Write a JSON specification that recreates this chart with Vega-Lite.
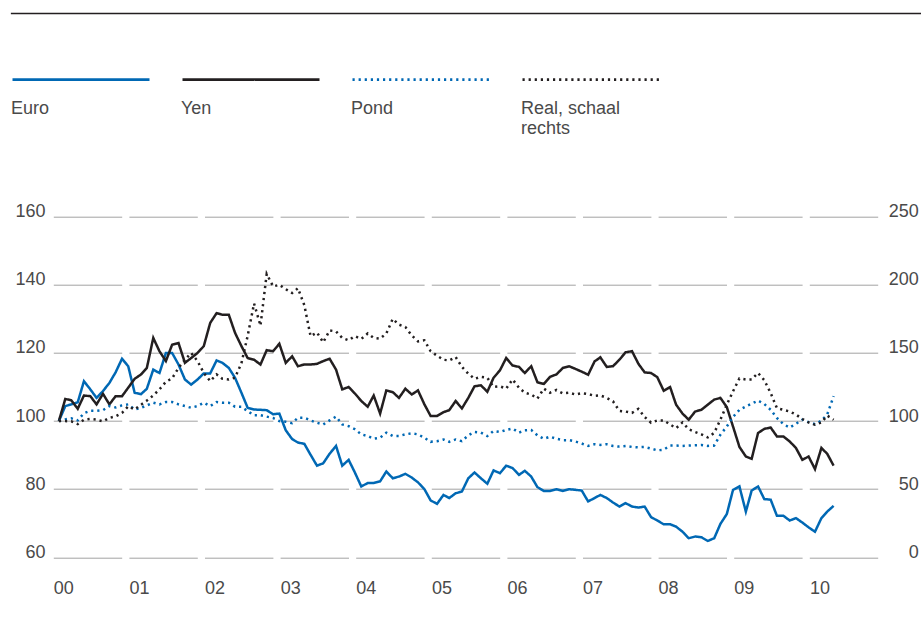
{
  "$schema": "https://vega.github.io/schema/vega-lite/v6.json",
  "width": 824.4,
  "height": 340.6,
  "autosize": {"type": "none"},
  "padding": {"left": 53.3, "top": 216.7, "right": 43.3, "bottom": 60.7},
  "background": "white",
  "config": {
    "font": "Liberation Sans",
    "view": {"stroke": null},
    "axis": {"labelFont": "Liberation Sans", "labelFontSize": 18, "labelColor": "#4a4a4a", "ticks": false, "tickSize": 0, "domain": false, "title": null},
    "legend": {"labelFont": "Liberation Sans"}
  },
  "datasets": {
    "fx": [
      {"d": "2000-01-28", "Euro": 100, "Yen": 100, "Pond": 100, "Real": 100},
      {"d": "2000-02-28", "Euro": 104.4, "Yen": 106.5, "Pond": 100.5, "Real": 100},
      {"d": "2000-03-28", "Euro": 104.9, "Yen": 106.1, "Pond": 100.8, "Real": 99.8},
      {"d": "2000-04-28", "Euro": 105.5, "Yen": 103.6, "Pond": 100.2, "Real": 97.8},
      {"d": "2000-05-28", "Euro": 111.7, "Yen": 107.5, "Pond": 102.3, "Real": 101},
      {"d": "2000-06-28", "Euro": 109.3, "Yen": 107.3, "Pond": 103, "Real": 101.5},
      {"d": "2000-07-28", "Euro": 106.8, "Yen": 104.9, "Pond": 103, "Real": 101},
      {"d": "2000-08-28", "Euro": 108.8, "Yen": 108, "Pond": 103.2, "Real": 99.8},
      {"d": "2000-09-28", "Euro": 111.2, "Yen": 104.9, "Pond": 104.4, "Real": 102.3},
      {"d": "2000-10-28", "Euro": 114.3, "Yen": 107.3, "Pond": 104, "Real": 103.5},
      {"d": "2000-11-28", "Euro": 118.3, "Yen": 107.3, "Pond": 104.6, "Real": 106},
      {"d": "2000-12-28", "Euro": 116.1, "Yen": 109.8, "Pond": 104.9, "Real": 110.8},
      {"d": "2001-01-28", "Euro": 108.3, "Yen": 112.4, "Pond": 103.4, "Real": 108.5},
      {"d": "2001-02-28", "Euro": 107.9, "Yen": 113.7, "Pond": 103.9, "Real": 112},
      {"d": "2001-03-28", "Euro": 109.5, "Yen": 115.6, "Pond": 104.6, "Real": 115},
      {"d": "2001-04-28", "Euro": 115.1, "Yen": 124.4, "Pond": 105.4, "Real": 118.8},
      {"d": "2001-05-28", "Euro": 114.1, "Yen": 120.5, "Pond": 104.9, "Real": 123.3},
      {"d": "2001-06-28", "Euro": 120, "Yen": 117.6, "Pond": 105.6, "Real": 128.8},
      {"d": "2001-07-28", "Euro": 120, "Yen": 122.4, "Pond": 105.6, "Real": 131.3},
      {"d": "2001-08-28", "Euro": 116.6, "Yen": 122.9, "Pond": 104.9, "Real": 139},
      {"d": "2001-09-28", "Euro": 112.2, "Yen": 117.1, "Pond": 104.4, "Real": 145},
      {"d": "2001-10-28", "Euro": 110.7, "Yen": 118.5, "Pond": 103.9, "Real": 150},
      {"d": "2001-11-28", "Euro": 112.2, "Yen": 120, "Pond": 104.4, "Real": 144},
      {"d": "2001-12-28", "Euro": 114, "Yen": 122, "Pond": 105.4, "Real": 135.3},
      {"d": "2002-01-28", "Euro": 114, "Yen": 128.8, "Pond": 104.4, "Real": 129.3},
      {"d": "2002-02-28", "Euro": 117.8, "Yen": 131.7, "Pond": 105.6, "Real": 134.3},
      {"d": "2002-03-28", "Euro": 117.1, "Yen": 131.2, "Pond": 105.4, "Real": 131},
      {"d": "2002-04-28", "Euro": 115.6, "Yen": 131.2, "Pond": 105.4, "Real": 130.5},
      {"d": "2002-05-28", "Euro": 112.7, "Yen": 125.9, "Pond": 104.2, "Real": 131.8},
      {"d": "2002-06-28", "Euro": 108.3, "Yen": 122, "Pond": 104.2, "Real": 142.5},
      {"d": "2002-07-28", "Euro": 103.9, "Yen": 118.5, "Pond": 102.9, "Real": 162.5},
      {"d": "2002-08-28", "Euro": 103.4, "Yen": 118, "Pond": 101.7, "Real": 186.3},
      {"d": "2002-09-28", "Euro": 103.3, "Yen": 116.6, "Pond": 101.7, "Real": 170},
      {"d": "2002-10-28", "Euro": 103.2, "Yen": 120.8, "Pond": 101.3, "Real": 208},
      {"d": "2002-11-28", "Euro": 102, "Yen": 120.5, "Pond": 100.9, "Real": 198.8},
      {"d": "2002-12-28", "Euro": 102.2, "Yen": 122.7, "Pond": 100, "Real": 200},
      {"d": "2003-01-28", "Euro": 97.3, "Yen": 117.1, "Pond": 99.8, "Real": 196.8},
      {"d": "2003-02-28", "Euro": 94.7, "Yen": 119, "Pond": 99.4, "Real": 194},
      {"d": "2003-03-28", "Euro": 93.7, "Yen": 116.1, "Pond": 101, "Real": 197.5},
      {"d": "2003-04-28", "Euro": 93.3, "Yen": 116.6, "Pond": 101, "Real": 185},
      {"d": "2003-05-28", "Euro": 90.1, "Yen": 116.6, "Pond": 100.2, "Real": 162.3},
      {"d": "2003-06-28", "Euro": 86.9, "Yen": 116.8, "Pond": 99.5, "Real": 165},
      {"d": "2003-07-28", "Euro": 87.6, "Yen": 117.6, "Pond": 99, "Real": 157.8},
      {"d": "2003-08-28", "Euro": 90.4, "Yen": 118.3, "Pond": 100.2, "Real": 166.5},
      {"d": "2003-09-28", "Euro": 92.7, "Yen": 115.1, "Pond": 101.3, "Real": 165.8},
      {"d": "2003-10-28", "Euro": 86.9, "Yen": 109.3, "Pond": 99, "Real": 161},
      {"d": "2003-11-28", "Euro": 88.6, "Yen": 110, "Pond": 98.5, "Real": 159.3},
      {"d": "2003-12-28", "Euro": 84.9, "Yen": 108.1, "Pond": 97.6, "Real": 162.3},
      {"d": "2004-01-28", "Euro": 80.8, "Yen": 105.9, "Pond": 96.1, "Real": 160.3},
      {"d": "2004-02-28", "Euro": 81.8, "Yen": 104.2, "Pond": 95.6, "Real": 164.3},
      {"d": "2004-03-28", "Euro": 81.8, "Yen": 107.5, "Pond": 94.8, "Real": 161},
      {"d": "2004-04-28", "Euro": 82.3, "Yen": 102.2, "Pond": 95.1, "Real": 160.5},
      {"d": "2004-05-28", "Euro": 85.2, "Yen": 109, "Pond": 96.6, "Real": 164.3},
      {"d": "2004-06-28", "Euro": 83.2, "Yen": 108.5, "Pond": 95.6, "Real": 175},
      {"d": "2004-07-28", "Euro": 83.7, "Yen": 106.8, "Pond": 95.6, "Real": 170.8},
      {"d": "2004-08-28", "Euro": 84.5, "Yen": 109.5, "Pond": 96.1, "Real": 169},
      {"d": "2004-09-28", "Euro": 83.4, "Yen": 107.8, "Pond": 96.4, "Real": 162.8},
      {"d": "2004-10-28", "Euro": 82, "Yen": 109, "Pond": 96.1, "Real": 158.5},
      {"d": "2004-11-28", "Euro": 80, "Yen": 104.9, "Pond": 95.1, "Real": 159.3},
      {"d": "2004-12-28", "Euro": 76.7, "Yen": 101.5, "Pond": 93.9, "Real": 151.3},
      {"d": "2005-01-28", "Euro": 75.7, "Yen": 101.5, "Pond": 94.1, "Real": 148},
      {"d": "2005-02-28", "Euro": 78.3, "Yen": 102.6, "Pond": 94.6, "Real": 145},
      {"d": "2005-03-28", "Euro": 77.4, "Yen": 103.2, "Pond": 93.9, "Real": 144.5},
      {"d": "2005-04-28", "Euro": 78.8, "Yen": 105.9, "Pond": 94.6, "Real": 147},
      {"d": "2005-05-28", "Euro": 79.3, "Yen": 103.7, "Pond": 94.1, "Real": 139.8},
      {"d": "2005-06-28", "Euro": 83.2, "Yen": 106.8, "Pond": 95.8, "Real": 134.8},
      {"d": "2005-07-28", "Euro": 84.9, "Yen": 110.2, "Pond": 96.8, "Real": 131},
      {"d": "2005-08-28", "Euro": 83.2, "Yen": 110.5, "Pond": 96.6, "Real": 132.5},
      {"d": "2005-09-28", "Euro": 81.6, "Yen": 108.6, "Pond": 95.6, "Real": 131.8},
      {"d": "2005-10-28", "Euro": 85.5, "Yen": 112.7, "Pond": 97.1, "Real": 125},
      {"d": "2005-11-28", "Euro": 84.7, "Yen": 114.9, "Pond": 96.8, "Real": 125.5},
      {"d": "2005-12-28", "Euro": 86.9, "Yen": 118.5, "Pond": 97.4, "Real": 123.8},
      {"d": "2006-01-28", "Euro": 86.2, "Yen": 116.3, "Pond": 97.8, "Real": 130.5},
      {"d": "2006-02-28", "Euro": 84.2, "Yen": 115.9, "Pond": 96.6, "Real": 124.5},
      {"d": "2006-03-28", "Euro": 85.4, "Yen": 114.1, "Pond": 97.3, "Real": 120.8},
      {"d": "2006-04-28", "Euro": 83.7, "Yen": 116.1, "Pond": 97.4, "Real": 119.5},
      {"d": "2006-05-28", "Euro": 80.6, "Yen": 111.4, "Pond": 95.8, "Real": 116.5},
      {"d": "2006-06-28", "Euro": 79.5, "Yen": 110.9, "Pond": 94.8, "Real": 123.8},
      {"d": "2006-07-28", "Euro": 79.5, "Yen": 113, "Pond": 95.4, "Real": 120.8},
      {"d": "2006-08-28", "Euro": 80, "Yen": 113.7, "Pond": 94.8, "Real": 122.8},
      {"d": "2006-09-28", "Euro": 79.5, "Yen": 115.6, "Pond": 94.4, "Real": 120.3},
      {"d": "2006-10-28", "Euro": 80, "Yen": 116.1, "Pond": 94.4, "Real": 120.8},
      {"d": "2006-11-28", "Euro": 79.8, "Yen": 115.3, "Pond": 94, "Real": 119.5},
      {"d": "2006-12-28", "Euro": 79.6, "Yen": 114.5, "Pond": 93.4, "Real": 120.5},
      {"d": "2007-01-28", "Euro": 76.4, "Yen": 113.6, "Pond": 92.7, "Real": 119.8},
      {"d": "2007-02-28", "Euro": 77.4, "Yen": 117.5, "Pond": 93.2, "Real": 118.5},
      {"d": "2007-03-28", "Euro": 78.3, "Yen": 118.7, "Pond": 93, "Real": 118.8},
      {"d": "2007-04-28", "Euro": 77.4, "Yen": 115.9, "Pond": 93.2, "Real": 117},
      {"d": "2007-05-28", "Euro": 76.1, "Yen": 116.1, "Pond": 92.7, "Real": 114.5},
      {"d": "2007-06-28", "Euro": 74.9, "Yen": 118, "Pond": 92.5, "Real": 107.5},
      {"d": "2007-07-28", "Euro": 75.9, "Yen": 120.2, "Pond": 92.7, "Real": 107},
      {"d": "2007-08-28", "Euro": 74.9, "Yen": 120.5, "Pond": 92.4, "Real": 106},
      {"d": "2007-09-28", "Euro": 74.6, "Yen": 116.8, "Pond": 92.3, "Real": 109},
      {"d": "2007-10-28", "Euro": 74.9, "Yen": 114.3, "Pond": 92.4, "Real": 103},
      {"d": "2007-11-28", "Euro": 71.8, "Yen": 114.1, "Pond": 91.9, "Real": 98.8},
      {"d": "2007-12-28", "Euro": 70.8, "Yen": 112.9, "Pond": 91.4, "Real": 100.5},
      {"d": "2008-01-28", "Euro": 69.7, "Yen": 108.9, "Pond": 91.6, "Real": 100.5},
      {"d": "2008-02-28", "Euro": 69.7, "Yen": 110, "Pond": 92.8, "Real": 97.5},
      {"d": "2008-03-28", "Euro": 69, "Yen": 104.8, "Pond": 92.8, "Real": 94.8},
      {"d": "2008-04-28", "Euro": 67.5, "Yen": 102.2, "Pond": 92.7, "Real": 99},
      {"d": "2008-05-28", "Euro": 65.6, "Yen": 100.4, "Pond": 92.8, "Real": 94},
      {"d": "2008-06-28", "Euro": 66.1, "Yen": 102.8, "Pond": 92.9, "Real": 92},
      {"d": "2008-07-28", "Euro": 65.9, "Yen": 103.3, "Pond": 93, "Real": 90.3},
      {"d": "2008-08-28", "Euro": 64.8, "Yen": 104.8, "Pond": 92.7, "Real": 88},
      {"d": "2008-09-28", "Euro": 65.6, "Yen": 106.3, "Pond": 92.8, "Real": 91.3},
      {"d": "2008-10-28", "Euro": 69.8, "Yen": 106.8, "Pond": 96, "Real": 101},
      {"d": "2008-11-28", "Euro": 72.7, "Yen": 104.1, "Pond": 98.4, "Real": 112},
      {"d": "2008-12-28", "Euro": 79.8, "Yen": 98.4, "Pond": 101.2, "Real": 121.8},
      {"d": "2009-01-28", "Euro": 80.8, "Yen": 92.4, "Pond": 103.3, "Real": 131.3},
      {"d": "2009-02-28", "Euro": 73.4, "Yen": 89.6, "Pond": 104.3, "Real": 130.5},
      {"d": "2009-03-28", "Euro": 79.6, "Yen": 88.9, "Pond": 105.1, "Real": 130.5},
      {"d": "2009-04-28", "Euro": 80.8, "Yen": 96.5, "Pond": 106, "Real": 135.3},
      {"d": "2009-05-28", "Euro": 77.1, "Yen": 97.7, "Pond": 105, "Real": 130},
      {"d": "2009-06-28", "Euro": 76.9, "Yen": 98.1, "Pond": 103.3, "Real": 120.5},
      {"d": "2009-07-28", "Euro": 72.2, "Yen": 95.5, "Pond": 100.9, "Real": 109.5},
      {"d": "2009-08-28", "Euro": 72.2, "Yen": 95.5, "Pond": 99.1, "Real": 108.3},
      {"d": "2009-09-28", "Euro": 70.8, "Yen": 94, "Pond": 98.1, "Real": 107},
      {"d": "2009-10-28", "Euro": 71.5, "Yen": 92.1, "Pond": 99.2, "Real": 104.8},
      {"d": "2009-11-28", "Euro": 70.2, "Yen": 88.6, "Pond": 100.4, "Real": 101.5},
      {"d": "2009-12-28", "Euro": 68.8, "Yen": 89.6, "Pond": 99.7, "Real": 99},
      {"d": "2010-01-28", "Euro": 67.5, "Yen": 85.9, "Pond": 99.1, "Real": 97.3},
      {"d": "2010-02-28", "Euro": 71.5, "Yen": 92.1, "Pond": 100.1, "Real": 99},
      {"d": "2010-03-28", "Euro": 73.4, "Yen": 90.4, "Pond": 101.9, "Real": 104},
      {"d": "2010-04-28", "Euro": 75.1, "Yen": 86.9, "Pond": 107.3, "Real": 101}
    ]
  },
  "layer": [
    {
      "layer": [
        {
          "data": {"values": [{"frame": "top"}]},
          "mark": {"type": "rule", "color": "#231f20", "strokeWidth": 1.3, "clip": false},
          "encoding": {
            "x": {"datum": {"year": 1999, "month": 6, "date": 10}, "type": "temporal", "scale": {"domain": [{"year": 2000, "month": 1, "date": 1}, {"year": 2010, "month": 11, "date": 27}]}},
            "x2": {"datum": {"year": 2011, "month": 6, "date": 26}},
            "y": {"datum": 219.66, "type": "quantitative", "scale": {"domain": [60, 160]}}
          }
        },
        {
          "data": {"name": "fx"},
          "transform": [{"fold": ["Euro", "Yen", "Pond"], "as": ["serie", "value"]}],
          "mark": {"type": "line", "strokeWidth": 2.5, "strokeCap": "butt", "strokeJoin": "miter"},
          "encoding": {
            "x": {
              "field": "d", "type": "temporal",
              "scale": {"domain": [{"year": 2000, "month": 1, "date": 1}, {"year": 2010, "month": 11, "date": 27}]},
              "axis": {"format": "%y", "tickCount": {"interval": "year", "step": 1}, "labelAlign": "left", "labelBaseline": "top", "labelPadding": 22, "labelFlush": false, "labelOverlap": false, "grid": false}
            },
            "y": {
              "field": "value", "type": "quantitative",
              "scale": {"domain": [60, 160]},
              "axis": {"orient": "left", "values": [60, 80, 100, 120, 140, 160], "grid": true, "gridColor": "#a3a3a3", "gridWidth": 1, "gridDash": [68.4, 7.2], "labelPadding": 8.3, "labelBaseline": "alphabetic"}
            },
            "color": {
              "field": "serie", "type": "nominal",
              "scale": {"domain": ["Euro", "Yen", "Pond", "Real"], "range": ["#0068b4", "#231f20", "#0068b4", "#231f20"]},
              "legend": {
                "orient": "none", "legendX": -42.3, "legendY": -207, "direction": "horizontal", "columns": 4,
                "symbolType": "stroke", "symbolSize": 18769, "symbolStrokeWidth": 2.7,
                "labelOffset": -140, "labelBaseline": "top", "labelFontSize": 18, "labelColor": "#4a4a4a", "labelLineHeight": 23.3, "labelLimit": 300,
                "labelExpr": "datum.label == 'Real' ? ['', 'Real, schaal', 'rechts'] : ['', datum.label, ' ']",
                "columnPadding": 22, "padding": 0, "title": null
              }
            },
            "strokeDash": {
              "field": "serie", "type": "nominal",
              "scale": {"domain": ["Euro", "Yen", "Pond", "Real"], "range": [[1, 0], [1, 0], [2.2, 3.9], [2.2, 3.9]]},
              "legend": {
                "orient": "none", "legendX": -42.3, "legendY": -207, "direction": "horizontal", "columns": 4,
                "symbolType": "stroke", "symbolSize": 18769, "symbolStrokeWidth": 2.7,
                "labelOffset": -140, "labelBaseline": "top", "labelFontSize": 18, "labelColor": "#4a4a4a", "labelLineHeight": 23.3, "labelLimit": 300,
                "labelExpr": "datum.label == 'Real' ? ['', 'Real, schaal', 'rechts'] : ['', datum.label, ' ']",
                "columnPadding": 22, "padding": 0, "title": null
              }
            }
          }
        }
      ]
    },
    {
      "data": {"name": "fx"},
      "transform": [{"fold": ["Real"], "as": ["serie", "value"]}],
      "mark": {"type": "line", "strokeWidth": 2.5, "strokeCap": "butt"},
      "encoding": {
        "x": {"field": "d", "type": "temporal", "scale": {"domain": [{"year": 2000, "month": 1, "date": 1}, {"year": 2010, "month": 11, "date": 27}]}},
        "y": {
          "field": "value", "type": "quantitative",
          "scale": {"domain": [0, 250]},
          "axis": {"orient": "right", "values": [0, 50, 100, 150, 200, 250], "grid": false, "labelAlign": "right", "labelPadding": 40.6, "labelBaseline": "alphabetic"}
        },
        "color": {"field": "serie", "type": "nominal"},
        "strokeDash": {"field": "serie", "type": "nominal"}
      }
    }
  ],
  "resolve": {"scale": {"y": "independent"}}
}
